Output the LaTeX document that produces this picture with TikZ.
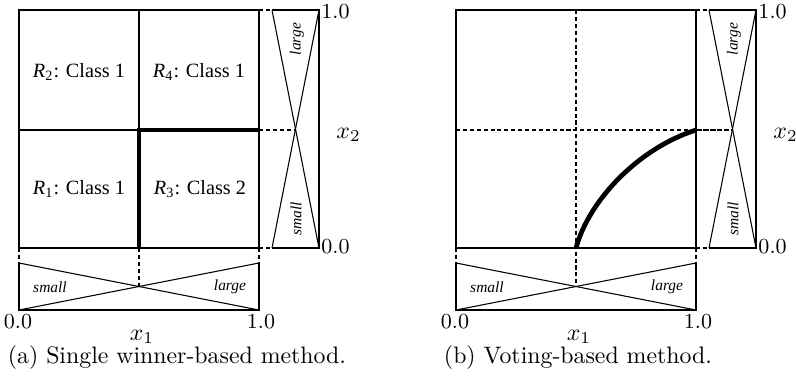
\documentclass[tikz,border=0pt]{standalone}
\usepackage{fontspec}
\newfontfamily\timesfont{Liberation Serif}
\begin{document}
\begin{tikzpicture}[
    x=0.42pt, y=-0.42pt,
    frame/.style={line width=1pt},
    split/.style={line width=0.45pt},
    bound/.style={line width=1.8pt},
    guide/.style={dash pattern=on 1.7pt off 1.2pt, line width=0.5pt},
    member/.style={line width=0.45pt},
    winner/.style={line width=2pt},
    region/.style={font=\timesfont\fontsize{8.5}{10}\selectfont},
    fuzzy/.style={font=\timesfont\itshape\fontsize{6.5}{8}\selectfont, inner sep=0pt},
    tick/.style={font=\fontsize{9}{10}\selectfont, inner sep=0pt},
    axis/.style={inner sep=0pt},
    caption/.style={inner sep=0pt, anchor=base}
  ]
    \useasboundingbox (0,0) rectangle (796,378);
    \foreach \dx/\p in {0/a, 437/b} {
      \begin{scope}[shift={(\dx,0)}]
        \coordinate (\p-nw) at (19,10);
        \coordinate (\p-ne) at (259,10);
        \coordinate (\p-sw) at (19,248);
        \coordinate (\p-se) at (259,248);
        \coordinate (\p-n) at (139,10);
        \coordinate (\p-s) at (139,248);
        \coordinate (\p-w) at (19,130);
        \coordinate (\p-e) at (259,130);
        \coordinate (\p-c) at (139,130);
        % membership functions of x1
        \coordinate (\p-b1) at (19,263);
        \coordinate (\p-b2) at (19,310);
        \coordinate (\p-b3) at (259,310);
        \coordinate (\p-b4) at (259,263);
        \coordinate (\p-bx) at (139,286.5);
        % membership functions of x2
        \coordinate (\p-r1) at (272,248);
        \coordinate (\p-r2) at (319,248);
        \coordinate (\p-r3) at (319,10);
        \coordinate (\p-r4) at (272,10);
        \coordinate (\p-rx) at (295.5,130);
        \draw[member] (\p-b1) -- (\p-b2) -- (\p-b3) -- (\p-b4);
        \draw[member] (\p-b1) -- (\p-b3);
        \draw[member] (\p-b2) -- (\p-b4);
        \draw[member] (\p-r1) -- (\p-r2) -- (\p-r3) -- (\p-r4);
        \draw[member] (\p-r1) -- (\p-r3);
        \draw[member] (\p-r4) -- (\p-r2);
        \draw[guide] (\p-sw) -- (\p-b1);
        \draw[guide] (\p-se) -- (\p-b4);
        \draw[guide] (\p-ne) -- (\p-r4);
        \draw[guide] (\p-se) -- (\p-r1);
        \draw[guide] (\p-e) -- (\p-rx);
        \node[fuzzy] (\p-small1) at (50,287) {small};
        \node[fuzzy] (\p-large1) at (230,287) {large};
        \node[fuzzy, rotate=90] (\p-large2) at (297,39) {large};
        \node[fuzzy, rotate=90] (\p-small2) at (296,219) {small};
        \node[tick, anchor=base] (\p-lo1) at (18,328) {0.0};
        \node[tick, anchor=base] (\p-hi1) at (261,328) {1.0};
        \node[tick, anchor=base west] (\p-hi2) at (321,18) {1.0};
        \node[tick, anchor=base west] (\p-lo2) at (321,253) {0.0};
        \node[axis, anchor=base] (\p-x1) at (142,340) {$x_1$};
        \node[axis, anchor=base west] (\p-x2) at (336,138) {$x_2$};
      \end{scope}
    }
    % (a) single winner
    \draw[split] (a-n) -- (a-c) -- (a-w);
    \draw[guide] (a-s) -- (a-bx);
    \draw[frame] (a-nw) rectangle (a-se);
    \draw[bound] (a-s) -- (a-c) -- (a-e);
    \node[region] (r2) at (79,72) {\textit{R}\textsubscript{2}: Class 1};
    \node[region] (r4) at (199,72) {\textit{R}\textsubscript{4}: Class 1};
    \node[region] (r1) at (79,189) {\textit{R}\textsubscript{1}: Class 1};
    \node[region] (r3) at (200,189) {\textit{R}\textsubscript{3}: Class 2};
    \node[caption] (capa) at (177,363) {(a) Single winner-based method.};
    % (b) voting
    \draw[guide] (b-n) -- (b-bx);
    \draw[guide] (b-w) -- (b-rx);
    \draw[frame] (b-nw) rectangle (b-se);
    \draw[winner] (b-s) .. controls +(13,-48) and +(-57,18) .. (b-e);
    \node[caption] (capb) at (578,363) {(b) Voting-based method.};
\end{tikzpicture}
\end{document}
